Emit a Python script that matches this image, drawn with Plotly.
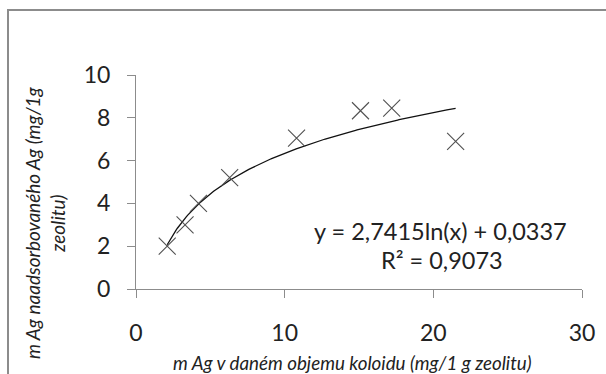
import numpy as np
import plotly.graph_objects as go

# data
x_vals = [2.1, 3.3, 4.2, 6.3, 10.8, 15.1, 17.2, 21.5]
y_vals = [2.0, 3.0, 4.0, 5.2, 7.05, 8.33, 8.45, 6.9]
coef_a = 2.7415
coef_b = 0.0337
eq_text = "y = 2,7415ln(x) + 0,0337"
r2_text = "R² = 0,9073"
x_ticks = [0, 10, 20, 30]
y_ticks = [0, 2, 4, 6, 8, 10]
x_title = "m Ag v daném objemu koloidu (mg/1 g zeolitu)"
y_title = "m Ag naadsorbovaného Ag (mg/1g<br>zeolitu)"

W, H = 606, 374
L, R, T, B = 136, 24, 75, 85
pw, ph = W - L - R, H - T - B

def px_to_paper_x(px):
    return (px - L) / pw

def px_to_paper_y(py):
    return (H - B - py) / ph

FONT = "Lato"
TXT = "#222222"

xt = np.linspace(min(x_vals), max(x_vals), 200)
yt = coef_a * np.log(xt) + coef_b

fig = go.Figure()
fig.add_trace(go.Scatter(x=xt, y=yt, mode="lines",
                         line=dict(color="#111111", width=1.3),
                         hoverinfo="skip", showlegend=False))
fig.add_trace(go.Scatter(x=x_vals, y=y_vals, mode="markers",
                         marker=dict(symbol="x-thin-open", size=17, color="#505050",
                                     line=dict(color="#505050", width=1.1)),
                         showlegend=False))

fig.update_layout(
    width=W, height=H,
    margin=dict(l=L, r=R, t=T, b=B),
    paper_bgcolor="white", plot_bgcolor="white",
    font=dict(family=FONT, color=TXT),
    xaxis=dict(range=[0, 30], tickvals=x_ticks, showgrid=False, zeroline=False,
               showline=True, linecolor="#8c8c8c", linewidth=1,
               ticks="outside", ticklen=8, tickcolor="#8c8c8c",
               ticklabelstandoff=15,
               tickfont=dict(size=23, family=FONT, color=TXT)),
    yaxis=dict(range=[0, 10], tickvals=y_ticks, showgrid=False, zeroline=False,
               showline=True, linecolor="#8c8c8c", linewidth=1,
               ticks="outside", ticklen=8, tickcolor="#8c8c8c",
               ticklabelstandoff=12,
               tickfont=dict(size=23, family=FONT, color=TXT)),
    shapes=[dict(type="rect", xref="paper", yref="paper",
                 x0=px_to_paper_x(8), x1=px_to_paper_x(700),
                 y0=px_to_paper_y(500), y1=px_to_paper_y(10),
                 line=dict(color="#8c8c8c", width=2), layer="below")],
    annotations=[
        dict(x=20.5, y=2.72, xref="x", yref="y", text=eq_text, showarrow=False,
             xanchor="center", yanchor="middle",
             font=dict(size=23.5, family=FONT, color=TXT)),
        dict(x=20.6, y=1.34, xref="x", yref="y", text=r2_text, showarrow=False,
             xanchor="center", yanchor="middle",
             font=dict(size=23.5, family=FONT, color=TXT)),
        dict(x=px_to_paper_x(352), y=px_to_paper_y(362), xref="paper", yref="paper",
             text="<i>" + x_title + "</i>", showarrow=False,
             xanchor="center", yanchor="middle",
             font=dict(size=18.8, family=FONT, color=TXT)),
        dict(x=px_to_paper_x(45), y=px_to_paper_y(223), xref="paper", yref="paper",
             text="<i>" + y_title + "</i>", showarrow=False, textangle=-90,
             align="center", xanchor="center", yanchor="middle",
             font=dict(size=19, family=FONT, color=TXT)),
    ],
)

fig.write_html("out.html")
